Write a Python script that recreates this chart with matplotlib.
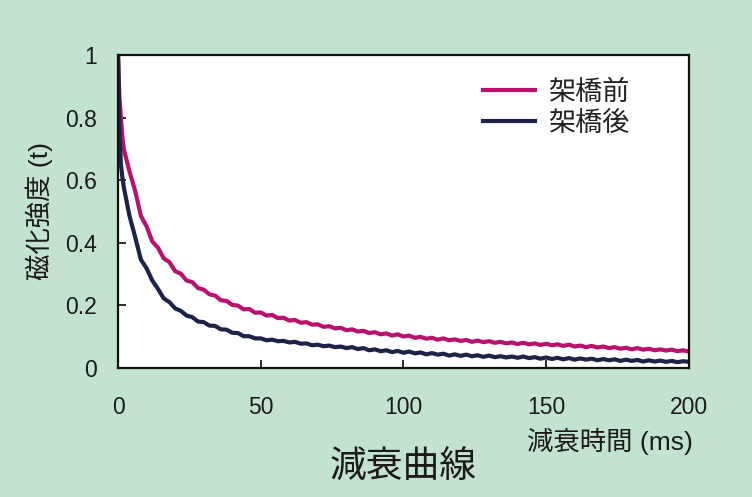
import numpy as np
import matplotlib
matplotlib.use("Agg")
import matplotlib.pyplot as plt

plt.rcParams['font.family'] = ['Liberation Sans', 'Noto Sans CJK JP']

# sample times (ms)
t_early = [0, 0.5, 1, 1.5]
t_main = list(np.arange(2, 201, 2))
times = np.array(t_early + t_main)

# 架橋前 (before crosslinking)
before = [1.00, 0.86, 0.80, 0.74,
          0.700, 0.628, 0.566, 0.486, 0.452, 0.404, 0.384, 0.350, 0.338, 0.309,
          0.301, 0.279, 0.274, 0.255, 0.250, 0.235, 0.231, 0.216, 0.214, 0.201,
          0.199, 0.187, 0.188, 0.176, 0.177, 0.167, 0.169, 0.159, 0.160, 0.151,
          0.153, 0.144, 0.146, 0.138, 0.139, 0.131, 0.133, 0.126, 0.128, 0.120,
          0.123, 0.116, 0.118, 0.111, 0.114, 0.107, 0.110, 0.103, 0.107, 0.100,
          0.103, 0.096, 0.099, 0.093, 0.096, 0.090, 0.094, 0.088, 0.091, 0.086,
          0.089, 0.083, 0.087, 0.082, 0.085, 0.080, 0.083, 0.078, 0.081, 0.076,
          0.080, 0.075, 0.078, 0.073, 0.077, 0.072, 0.075, 0.070, 0.074, 0.068,
          0.071, 0.066, 0.070, 0.065, 0.068, 0.063, 0.066, 0.061, 0.064, 0.059,
          0.063, 0.058, 0.061, 0.056, 0.059, 0.055, 0.058, 0.053, 0.056, 0.052]

# 架橋後 (after crosslinking)
after = [1.00, 0.75, 0.65, 0.61,
         0.578, 0.486, 0.418, 0.346, 0.318, 0.279, 0.252, 0.222, 0.210, 0.190,
         0.182, 0.167, 0.162, 0.148, 0.146, 0.135, 0.134, 0.123, 0.122, 0.112,
         0.111, 0.101, 0.101, 0.094, 0.094, 0.088, 0.090, 0.085, 0.086, 0.081,
         0.083, 0.077, 0.078, 0.072, 0.074, 0.069, 0.071, 0.066, 0.068, 0.063,
         0.066, 0.060, 0.063, 0.056, 0.059, 0.053, 0.056, 0.050, 0.054, 0.048,
         0.052, 0.046, 0.049, 0.043, 0.047, 0.042, 0.045, 0.039, 0.043, 0.038,
         0.042, 0.037, 0.040, 0.035, 0.039, 0.034, 0.037, 0.033, 0.036, 0.032,
         0.036, 0.031, 0.034, 0.029, 0.033, 0.028, 0.032, 0.027, 0.031, 0.026,
         0.030, 0.026, 0.029, 0.024, 0.028, 0.024, 0.027, 0.022, 0.026, 0.022,
         0.025, 0.020, 0.024, 0.020, 0.023, 0.019, 0.022, 0.018, 0.021, 0.019]

series_labels = ["架橋前", "架橋後"]
series_colors = ["#b8116e", "#1c2248"]

x_ticks = [0, 50, 100, 150, 200]
y_ticks = [0, 0.2, 0.4, 0.6, 0.8, 1]
y_ticklabels = ["0", "0.2", "0.4", "0.6", "0.8", "1"]

bg = "#c3e3d0"
fig = plt.figure(figsize=(7.52, 4.97), dpi=100, facecolor=bg)
ax = fig.add_axes([0.157, 0.26, 0.759, 0.629])
ax.set_facecolor("white")

for vals, lab, col in zip([before, after], series_labels, series_colors):
    ax.plot(times, vals, color=col, lw=3.0, label=lab)

ax.set_xlim(0, 200)
ax.set_ylim(0, 1)
ax.set_xticks(x_ticks)
ax.set_yticks(y_ticks)
ax.set_yticklabels(y_ticklabels)
ax.tick_params(axis="both", direction="in", length=6, width=1.3,
               labelsize=16.5, colors="#1a1a1a")
ax.tick_params(axis="y", pad=15)
ax.tick_params(axis="x", pad=20)
for s in ax.spines.values():
    s.set_linewidth(1.6)
    s.set_color("#111111")

ax.set_ylabel("磁化強度 (t)", fontsize=19, color="#1a1a1a", labelpad=9)

fig.text(0.921, 0.112, "減衰時間 (ms)", fontsize=19, ha="right", va="center",
         color="#1a1a1a")
fig.text(0.536, 0.06, "減衰曲線", fontsize=26.5, ha="center", va="center",
         color="#1a1a1a")

ax.legend(loc="upper right", bbox_to_anchor=(0.92, 0.965), frameon=False,
          fontsize=19.5, handlelength=1.9, handletextpad=0.5, labelspacing=0.18,
          borderpad=0, labelcolor="#222222")

fig.savefig("out.png", dpi=100, facecolor=bg)
